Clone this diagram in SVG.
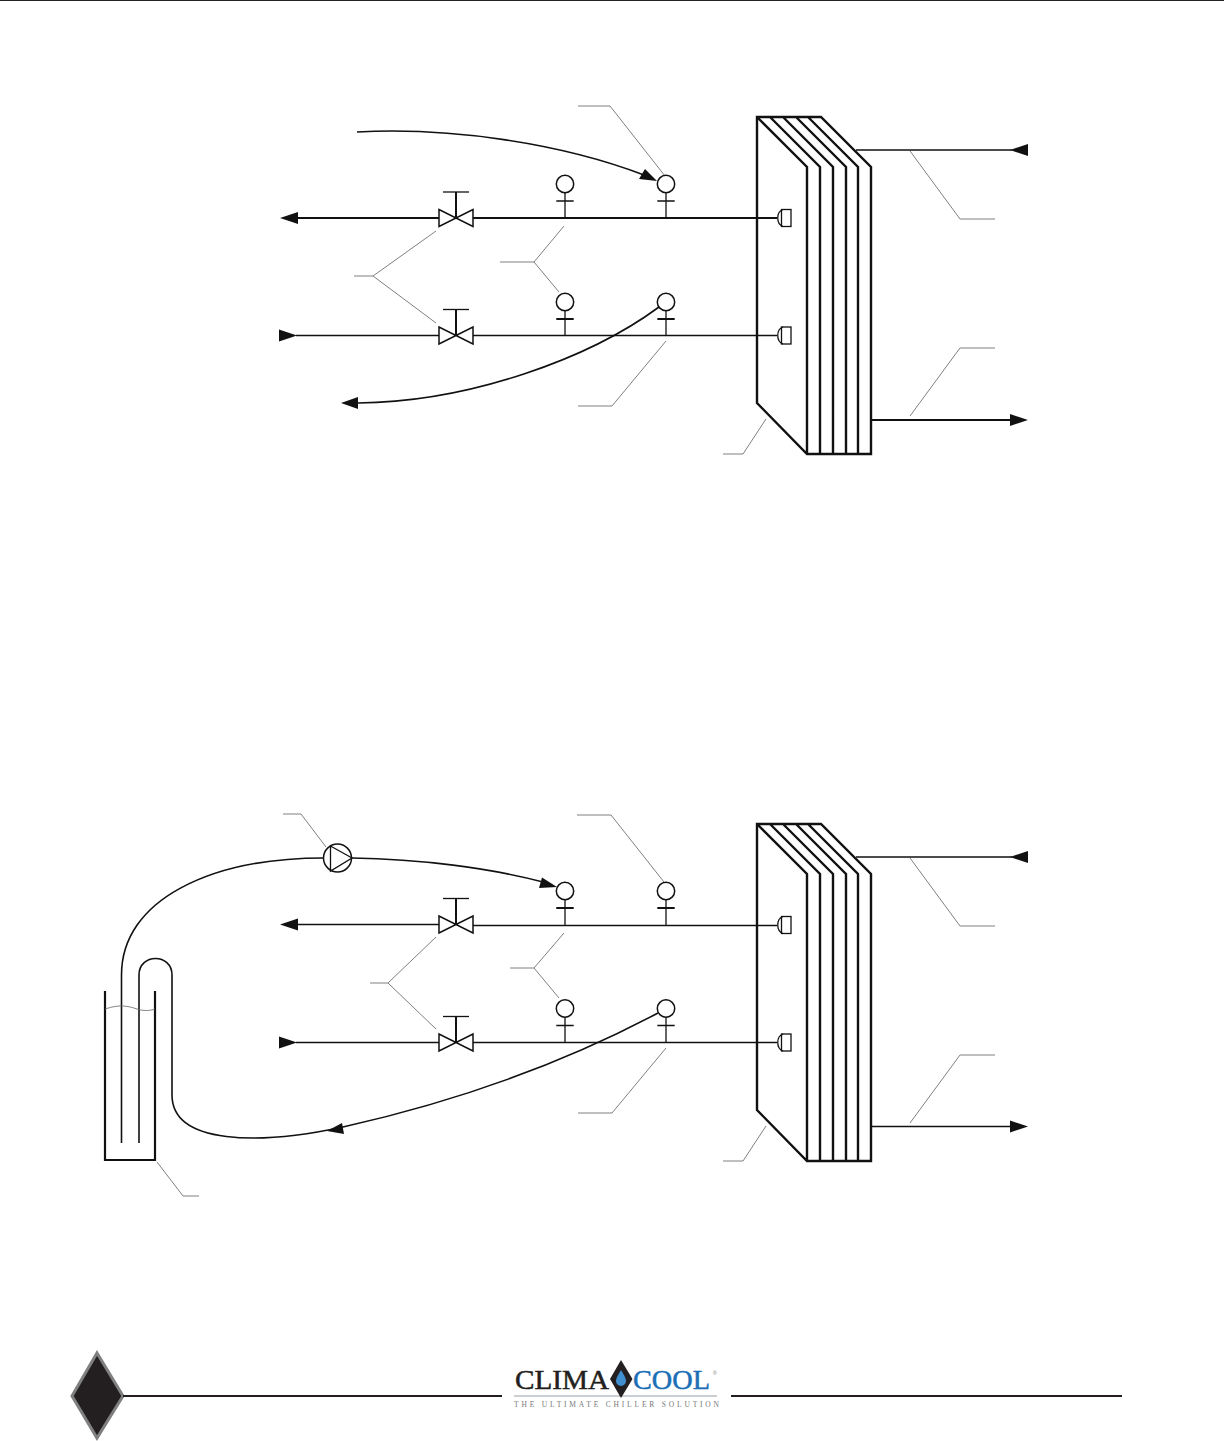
<svg xmlns="http://www.w3.org/2000/svg" xmlns:xlink="http://www.w3.org/1999/xlink" width="1224" height="1441" viewBox="0 0 1224 1441">
<style>
.p{fill:none;stroke:#111;stroke-width:1.6}
.t{fill:none;stroke:#111;stroke-width:2.2}
.s{fill:none;stroke:#111;stroke-width:2.4}
.l{fill:none;stroke:#808080;stroke-width:1}
.a{fill:#111;stroke:none}
.v{fill:#fff;stroke:#111;stroke-width:1.5}
.b{fill:none;stroke:#111;stroke-width:1.3}
.bt{fill:none;stroke:#111;stroke-width:2}
</style>
<defs>
<g id="stack">
<path class="s" d="M757 117H821L871 167V454H807L757 403ZM757 117L807 167V454M770 117L820 167V454M783 117L833 167V454M796 117L846 167V454M808 117L858 167V454"/>
</g>
<g id="valve">
<path class="v" d="M-17 -8.500V8.500L17 -8.500V8.500Z"/>
<path class="b" d="M-13 -26H13"/>
<path d="M0 0V-26" stroke="#111" stroke-width="2"/>
</g>
<g id="sensorThin">
<circle class="v" r="8.700"/>
<path class="b" d="M0 8.700V34M-8.700 17H8.700"/>
</g>
<g id="sensorThick">
<circle class="v" r="8.700"/>
<path class="b" d="M0 8.700V34"/><path class="bt" d="M-8.700 17H8.700"/>
</g>
<g id="cap">
<rect x="781.500" y="-8.500" width="9.500" height="17" fill="#fff" stroke="#111" stroke-width="1.300"/>
<path class="b" d="M783 -8.500C776 -6 776 6 783 8.500"/>
</g>
</defs>

<rect id="page-rule" x="0" y="0" width="1224" height="1" fill="#222"/>

<g id="connectors">
<!-- top panel -->
<path class="t" d="M296 218H439M473 218H777"/>
<path class="p" d="M296 335.500H439M473 335.500H777"/>
<path class="p" d="M357 132C450 127 560 143 644 175"/>
<path class="p" d="M659 307C590 358 470 402 358 403"/>
<path class="p" d="M856 150H1012"/>
<path class="t" d="M871 420H1012"/>
<polygon class="a" points="280,218 298,212 298,224"/>
<polygon class="a" points="297,335.500 279,329.500 279,341.500"/>
<polygon class="a" points="657,181 639,179 645,169"/>
<polygon class="a" points="341,403 358,397 358,409"/>
<polygon class="a" points="1010,150 1028,144 1028,156"/>
<polygon class="a" points="1028,420 1010,414 1010,426"/>
<g class="leaders">
<path class="l" d="M578 106H610L665 176"/>
<path class="l" d="M500 262H534L564 226M534 262L559 292"/>
<path class="l" d="M354 276H373L436 231M373 276L436 323"/>
<path class="l" d="M578 406H612L666 341"/>
<path class="l" d="M723 454H743L766 419"/>
<path class="l" d="M910 151L960 219H995"/>
<path class="l" d="M995 348H960L910 416"/>
</g>
<!-- bottom panel -->
<path class="p" d="M296 924.500H439M473 925.500H777"/>
<path class="p" d="M296 1042.500H439M473 1042.500H777"/>
<path class="p" d="M121.500 975C121.500 900 210 858 324 858"/>
<path class="p" d="M352 858C420 859 490 868 543 882"/>
<path class="p" d="M658 1013C560 1065 450 1103 343 1127"/>
<path class="p" d="M343 1127C260 1145 172 1145 172 1095V975C172 953 139 953 139 975V1143M121.500 975V1143"/>
<path class="p" d="M856 857H1012"/>
<path class="p" d="M871 1126.500H1012"/>
<polygon class="a" points="280,924.500 298,918.500 298,930.500"/>
<polygon class="a" points="297,1042.500 279,1036.500 279,1048.500"/>
<polygon class="a" points="557,887 539,888 542,877.500"/>
<polygon class="a" points="327,1131 342,1123 344,1134"/>
<polygon class="a" points="1010,857 1028,851 1028,863"/>
<polygon class="a" points="1028,1126.500 1010,1120.500 1010,1132.500"/>
<g class="leaders">
<path class="l" d="M283 814H301L326 847"/>
<path class="l" d="M577 815H611L664 882"/>
<path class="l" d="M510 968H534L564 933M534 968L559 998"/>
<path class="l" d="M370 983H388L436 937M388 983L436 1029"/>
<path class="l" d="M578 1113H612L666 1048"/>
<path class="l" d="M723 1161H743L766 1126"/>
<path class="l" d="M910 858L960 926H995"/>
<path class="l" d="M995 1055H960L910 1123"/>
<path class="l" d="M157 1162L183 1196H199"/>
</g>
</g>

<g id="hx-top"><use xlink:href="#stack"/></g>
<g id="hx-top-cap-1" transform="translate(0 218)"><use xlink:href="#cap"/></g>
<g id="hx-top-cap-2" transform="translate(0 335.500)"><use xlink:href="#cap"/></g>
<g id="valve-top-1" transform="translate(456 218)"><use xlink:href="#valve"/></g>
<g id="valve-top-2" transform="translate(456 335.500)"><use xlink:href="#valve"/></g>
<g id="sensor-top-1" transform="translate(565 184)"><use xlink:href="#sensorThin"/></g>
<g id="sensor-top-2" transform="translate(666 184)"><use xlink:href="#sensorThin"/></g>
<g id="sensor-top-3" transform="translate(565 302)"><use xlink:href="#sensorThick"/></g>
<g id="sensor-top-4" transform="translate(666 302)"><use xlink:href="#sensorThick"/></g>

<g id="hx-bottom" transform="translate(0 707)"><use xlink:href="#stack"/></g>
<g id="hx-bottom-cap-1" transform="translate(0 925)"><use xlink:href="#cap"/></g>
<g id="hx-bottom-cap-2" transform="translate(0 1042.500)"><use xlink:href="#cap"/></g>
<g id="valve-bottom-1" transform="translate(456 924.500)"><use xlink:href="#valve"/></g>
<g id="valve-bottom-2" transform="translate(456 1042.500)"><use xlink:href="#valve"/></g>
<g id="sensor-bottom-1" transform="translate(565 891)"><use xlink:href="#sensorThick"/></g>
<g id="sensor-bottom-2" transform="translate(666 891)"><use xlink:href="#sensorThick"/></g>
<g id="sensor-bottom-3" transform="translate(565 1008.500)"><use xlink:href="#sensorThin"/></g>
<g id="sensor-bottom-4" transform="translate(666 1008.500)"><use xlink:href="#sensorThin"/></g>

<g id="pump">
<circle class="v" cx="337.500" cy="858" r="14"/>
<path class="b" d="M330.500 846V871L352 858Z"/>
</g>

<g id="tank">
<path class="t" d="M105 991V1160H155V991"/>
<path d="M105 1009C120 1004 128 1006 137 1009C143 1011 150 1011 155 1009" fill="none" stroke="#666" stroke-width="0.800"/>
</g>

<g id="footer">
<polygon points="97,1353 123,1396 97,1438 72,1396" fill="#231f20" stroke="#808080" stroke-width="3"/>
<path d="M123 1396H502M731 1396H1122" fill="none" stroke="#231f20" stroke-width="2.200"/>
</g>

<g id="logo">
<text x="515" y="1389" font-family="'Liberation Serif',serif" font-size="28" fill="#231f20" stroke="#231f20" stroke-width="0.500" textLength="94" lengthAdjust="spacingAndGlyphs">CLIMA</text>
<text x="633" y="1389" font-family="'Liberation Serif',serif" font-size="28" fill="#1c6fb6" stroke="#1c6fb6" stroke-width="0.500" textLength="77" lengthAdjust="spacingAndGlyphs">COOL</text>
<text x="713" y="1375" font-family="'Liberation Sans',sans-serif" font-size="5" fill="#777">®</text>
<path d="M514 1396H717" stroke="#9aa0a4" stroke-width="1" fill="none"/>
<polygon points="621,1360 632.500,1379 621,1398 610,1379" fill="#231f20"/>
<path d="M621 1370C624 1375 626 1378 626 1381A5 5 0 0 1 616 1381C616 1378 618 1375 621 1370Z" fill="#3f8fd0"/>
<text x="514" y="1407" font-family="'Liberation Serif',serif" font-size="7.500" fill="#777" textLength="205" lengthAdjust="spacing">THE ULTIMATE CHILLER SOLUTION</text>
</g>
</svg>
